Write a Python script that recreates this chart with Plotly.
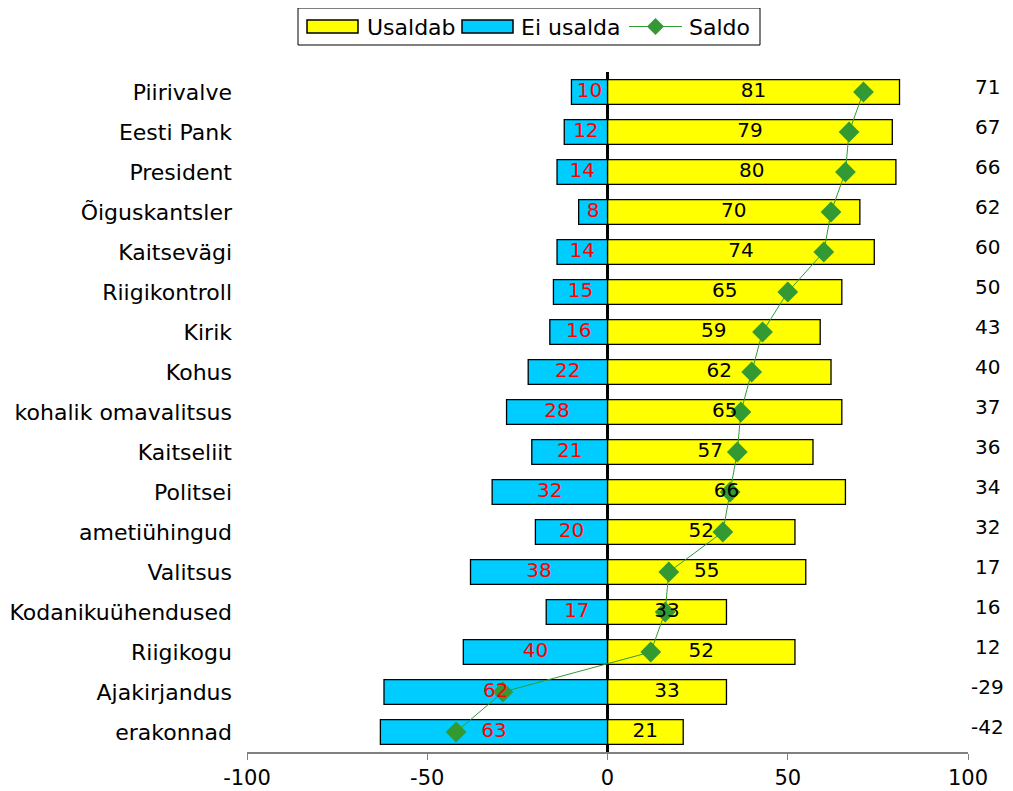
import plotly.graph_objects as go

categories = ["Piirivalve", "Eesti Pank", "President", "Õiguskantsler", "Kaitsevägi",
              "Riigikontroll", "Kirik", "Kohus", "kohalik omavalitsus", "Kaitseliit",
              "Politsei", "ametiühingud", "Valitsus", "Kodanikuühendused", "Riigikogu",
              "Ajakirjandus", "erakonnad"]
usaldab = [81, 79, 80, 70, 74, 65, 59, 62, 65, 57, 66, 52, 55, 33, 52, 33, 21]
ei_usalda = [10, 12, 14, 8, 14, 15, 16, 22, 28, 21, 32, 20, 38, 17, 40, 62, 63]
saldo = [71, 67, 66, 62, 60, 50, 43, 40, 37, 36, 34, 32, 17, 16, 12, -29, -42]
x_ticks = [-100, -50, 0, 50, 100]

FONT = "DejaVu Sans"
YELLOW = "#FFFF00"
BLUE = "#00CCFF"
GREEN = "#339933"

OFF = 8  # page body margin
W, H = 1013 - OFF, 791 - OFF
ML, MT = 247 - OFF, 72 - OFF
MR, MB = W - (968 - OFF), H - (752 - OFF)
PW, PH = W - ML - MR, H - MT - MB


def px(x):
    return (x - OFF - ML) / PW


def py(y):
    return (MT + PH - (y - OFF)) / PH


fig = go.Figure()
fig.add_trace(go.Bar(
    name="Usaldab", y=categories, x=usaldab, orientation="h",
    marker=dict(color=YELLOW, line=dict(color="black", width=1.3)),
    width=0.62, showlegend=False,
))
fig.add_trace(go.Bar(
    name="Ei usalda", y=categories, x=[-v for v in ei_usalda], orientation="h",
    marker=dict(color=BLUE, line=dict(color="black", width=1.3)),
    width=0.62, showlegend=False,
))
fig.add_trace(go.Scatter(
    name="Saldo", y=categories, x=saldo, mode="lines+markers",
    line=dict(color=GREEN, width=1),
    marker=dict(symbol="diamond", size=16, color=GREEN),
    showlegend=False,
))
# value labels inside bars
fig.add_trace(go.Scatter(
    y=categories, x=[v / 2 for v in usaldab], mode="text",
    text=[str(v) for v in usaldab], textposition="middle center",
    textfont=dict(family=FONT, size=20, color="black"), showlegend=False, hoverinfo="skip",
))
fig.add_trace(go.Scatter(
    y=categories, x=[-v / 2 for v in ei_usalda], mode="text",
    text=[str(v) for v in ei_usalda], textposition="middle center",
    textfont=dict(family=FONT, size=20, color="#FF0000"), showlegend=False, hoverinfo="skip",
))

for cat, s in zip(categories, saldo):
    fig.add_annotation(x=px(987), xref="paper", xanchor="center", y=cat, yref="y",
                       yanchor="middle", text=str(s), showarrow=False, yshift=5,
                       font=dict(family=FONT, size=20, color="black"))

# manual legend (matches the wide swatches of the reference)
shapes = [
    dict(type="rect", xref="paper", yref="paper", x0=px(298), x1=px(760), y0=py(45), y1=py(8),
         line=dict(color="black", width=1), fillcolor="white"),
    dict(type="rect", xref="paper", yref="paper", x0=px(307), x1=px(358), y0=py(33), y1=py(20),
         line=dict(color="black", width=1.5), fillcolor=YELLOW),
    dict(type="rect", xref="paper", yref="paper", x0=px(462), x1=px(513), y0=py(33), y1=py(20),
         line=dict(color="black", width=1.5), fillcolor=BLUE),
    dict(type="line", xref="paper", yref="paper", x0=px(629), x1=px(682), y0=py(26.5), y1=py(26.5),
         line=dict(color=GREEN, width=1)),
    dict(type="path", xref="paper", yref="paper",
         path=f"M {px(647)} {py(26.5)} L {px(655.5)} {py(18)} L {px(664)} {py(26.5)} "
              f"L {px(655.5)} {py(35)} Z",
         line=dict(color=GREEN, width=0), fillcolor=GREEN),
]
for txt, x0 in [("Usaldab", 365), ("Ei usalda", 519), ("Saldo", 687)]:
    fig.add_annotation(x=px(x0), xref="paper", xanchor="left", y=py(27), yref="paper",
                       yanchor="middle", text=txt, showarrow=False,
                       font=dict(family=FONT, size=22, color="black"))

fig.update_layout(
    width=W, height=H,
    margin=dict(l=ML, r=MR, t=MT, b=MB, autoexpand=False),
    plot_bgcolor="white", paper_bgcolor="white",
    barmode="relative",
    font=dict(family=FONT, size=22, color="black"),
    showlegend=False,
    shapes=shapes,
    xaxis=dict(range=[-100, 100], tickvals=x_ticks, ticktext=[str(v) for v in x_ticks],
               showgrid=False, zeroline=True, zerolinecolor="black", zerolinewidth=3,
               showline=True, linecolor="#808080", linewidth=1.5,
               ticks="outside", ticklen=6, tickcolor="#808080", automargin=False,
               tickfont=dict(family=FONT, size=21)),
    yaxis=dict(range=[len(categories) - 0.5, -0.5], showgrid=False, showline=False, ticks="",
               ticklabelstandoff=14, automargin=False, tickfont=dict(family=FONT, size=22)),
)

fig.write_html("out.html")
